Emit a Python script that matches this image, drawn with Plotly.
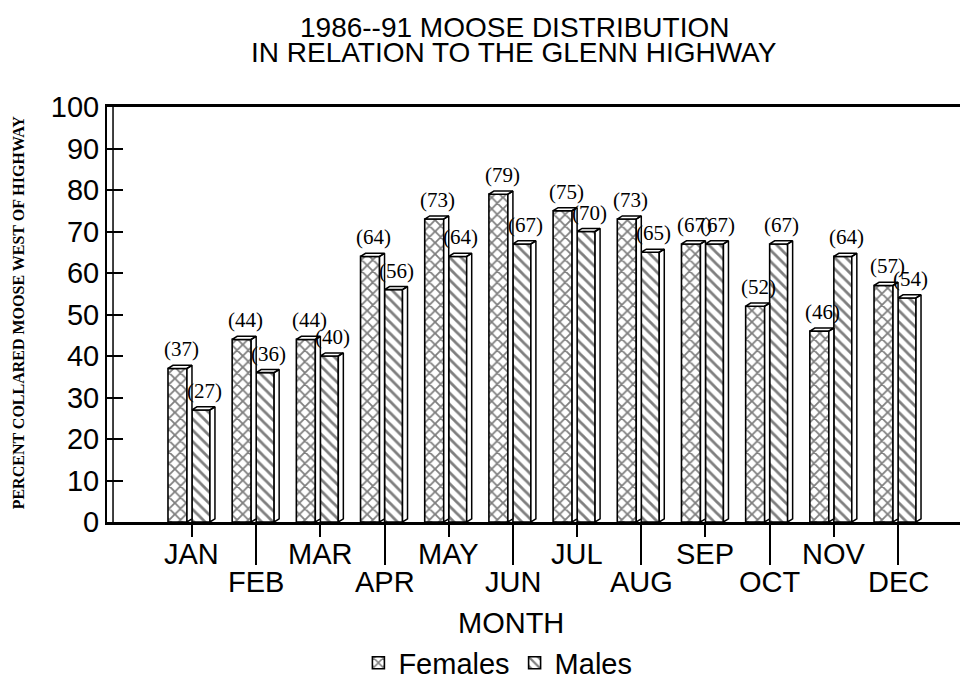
import plotly.graph_objects as go

# Daten
months = ["JAN", "FEB", "MAR", "APR", "MAY", "JUN",
          "JUL", "AUG", "SEP", "OCT", "NOV", "DEC"]
females = [37, 44, 44, 64, 73, 79, 75, 73, 67, 52, 46, 57]
males = [27, 36, 40, 56, 64, 67, 70, 65, 67, 67, 64, 54]
y_ticks = [0, 10, 20, 30, 40, 50, 60, 70, 80, 90, 100]

SANS = "Liberation Sans, Arial, sans-serif"
SERIF = "Liberation Serif, Times New Roman, serif"
FS = 29  # Schriftgroesse fuer fast alle Texte

# 3D-Effekt der Balken (Seitenflaeche + Deckflaeche)
DX = 0.078
DY = 0.75
F_OFF, F_W = -0.374, 0.296
M_OFF, M_W = 0.0, 0.28


def faces(vals, off, w):
    xs, ys = [], []
    for i, v in enumerate(vals):
        x0 = i + off
        x1 = x0 + w
        xs += [x1, x1 + DX, x1 + DX, x1, x1, None]
        ys += [0, DY, v + DY, v, 0, None]
        xs += [x0, x0 + DX, x1 + DX, x1, x0, None]
        ys += [v, v + DY, v + DY, v, v, None]
    return xs, ys


idx = list(range(len(months)))
fig = go.Figure()

fig.add_trace(go.Bar(
    x=idx, y=females, width=F_W, offset=F_OFF, name="Females",
    marker=dict(color="white", line=dict(color="black", width=1.6),
                pattern=dict(shape="x", fgcolor="black", bgcolor="white",
                             size=8, solidity=0.4)),
))
fig.add_trace(go.Bar(
    x=idx, y=males, width=M_W, offset=M_OFF, name="Males",
    marker=dict(color="white", line=dict(color="black", width=1.6),
                pattern=dict(shape="\\", fgcolor="black", bgcolor="white",
                             size=8, solidity=0.35)),
))

for vals, off, w in [(females, F_OFF, F_W), (males, M_OFF, M_W)]:
    xs, ys = faces(vals, off, w)
    fig.add_trace(go.Scatter(
        x=xs, y=ys, mode="lines", fill="toself", fillcolor="white",
        line=dict(color="black", width=1.5), showlegend=False,
        hoverinfo="skip",
    ))

# Werte in Klammern ueber den Balken
for i in idx:
    fig.add_annotation(x=i - 0.17, y=females[i], text=f"({females[i]})",
                       yshift=19, showarrow=False,
                       font=dict(family=SERIF, size=21, color="black"))
    fig.add_annotation(x=i + 0.19, y=males[i], text=f"({males[i]})",
                       yshift=19, showarrow=False,
                       font=dict(family=SERIF, size=21, color="black"))

# Monatsnamen abwechselnd in zwei Zeilen
for i, m in enumerate(months):
    fig.add_annotation(x=i, y=-0.077 if i % 2 == 0 else -0.145,
                       yref="paper", yanchor="middle", xanchor="center",
                       text=m, showarrow=False,
                       font=dict(family=SANS, size=FS, color="black"))

fig.add_annotation(x=0.473, y=1.192, xref="paper", yref="paper",
                   xanchor="center", yanchor="middle",
                   text="1986--91 MOOSE DISTRIBUTION", showarrow=False,
                   font=dict(family=SANS, size=FS - 1, color="black"))
fig.add_annotation(x=0.473, y=1.131, xref="paper", yref="paper",
                   xanchor="center", yanchor="middle",
                   text="IN RELATION TO THE GLENN HIGHWAY", showarrow=False,
                   font=dict(family=SANS, size=FS - 1, color="black"))
fig.add_annotation(x=0.469, y=-0.243, xref="paper", yref="paper",
                   xanchor="center", yanchor="middle",
                   text="MONTH", showarrow=False,
                   font=dict(family=SANS, size=FS, color="black"))
fig.add_annotation(x=-0.103, y=0.506, xref="paper", yref="paper",
                   xanchor="center", yanchor="middle",
                   text="<b>PERCENT COLLARED MOOSE WEST OF HIGHWAY</b>",
                   textangle=-90, showarrow=False,
                   font=dict(family=SERIF, size=16, color="black"))

# innere Linie der Rueckwand
fig.add_shape(type="line", xref="paper", yref="y", x0=0.007, x1=0.007,
              y0=0, y1=100, line=dict(color="black", width=1.5))

# Seite hat 8px Rand im Browser -> Figur etwas kleiner
fig.update_layout(
    width=960, height=671,
    margin=dict(l=99, r=0, t=99, b=157),
    paper_bgcolor="white", plot_bgcolor="white",
    barmode="overlay",
    showlegend=True,
    legend=dict(orientation="h", x=0.454, xanchor="center",
                yref="container", y=0.024, yanchor="middle",
                font=dict(family=SANS, size=FS, color="black"),
                itemwidth=30),
    xaxis=dict(range=[-1.324, 12.09], tickvals=idx[0::2], ticktext=[""] * 6,
               ticks="outside", ticklen=12, tickwidth=1.5, tickcolor="black",
               minor=dict(tickvals=idx[1::2], ticks="outside", ticklen=40,
                          tickwidth=1.5, tickcolor="black"),
               showline=True, linecolor="black", linewidth=2.5, mirror=True,
               showgrid=False, zeroline=False),
    yaxis=dict(range=[0, 100], tickvals=y_ticks, ticks="inside", ticklen=16,
               tickwidth=1.5, tickcolor="black", showline=True,
               linecolor="black", linewidth=2, showgrid=False, zeroline=False,
               tickfont=dict(family=SANS, size=FS, color="black")),
)

fig.write_html("out.html")
